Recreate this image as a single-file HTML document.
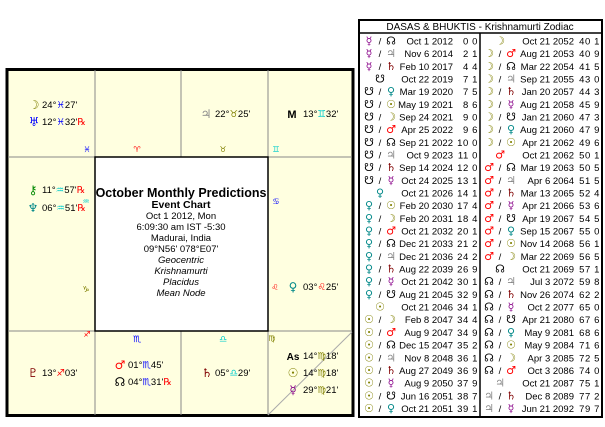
<!DOCTYPE html>
<html><head><meta charset="utf-8"><style>
body{margin:0;background:#fff;}
svg text{font-family:"Liberation Sans","DejaVu Sans",sans-serif;}
.g{font-family:"DejaVu Sans",sans-serif;}
</style></head><body>
<svg width="605" height="422" viewBox="0 0 605 422" xmlns="http://www.w3.org/2000/svg">
<rect x="7" y="69.5" width="346" height="346" fill="#ffffe0" stroke="#000" stroke-width="3"/>
<g stroke="#888" stroke-width="1">
<line x1="95" y1="70" x2="95" y2="415"/><line x1="181" y1="70" x2="181" y2="157"/><line x1="181" y1="331" x2="181" y2="415"/>
<line x1="268" y1="70" x2="268" y2="415"/>
<line x1="8" y1="157" x2="352" y2="157"/><line x1="8" y1="331" x2="352" y2="331"/>
<line x1="268" y1="415" x2="352" y2="332" stroke="#aaa"/>
</g>
<rect x="95" y="157" width="173" height="174" fill="#fff" stroke="#000" stroke-width="1.5"/>
<g font-size="9.5" fill="#000">
<text x="34" y="109" class="g" fill="#808000" font-size="12" text-anchor="middle">☽</text>
<text x="42" y="108">24°<tspan fill="#00f" class="g">♓</tspan>27'</text>
<text x="34" y="126" class="g" fill="#00f" font-size="12" text-anchor="middle">♅</text>
<text x="42" y="125">12°<tspan fill="#00f" class="g">♓</tspan>32'<tspan fill="#f00">℞</tspan></text>
<text x="87" y="152" class="g" fill="#00f" font-size="8" text-anchor="middle">♓</text>
<text x="137" y="152" class="g" fill="#f00" font-size="8" text-anchor="middle">♈</text>
<text x="223" y="152" class="g" fill="#808000" font-size="8" text-anchor="middle">♉</text>
<text x="276" y="152" class="g" fill="#0cc" font-size="8" text-anchor="middle">♊</text>
<text x="206" y="118" class="g" fill="#888" font-size="12" text-anchor="middle">♃</text>
<text x="215" y="117">22°<tspan fill="#808000" class="g">♉</tspan>25'</text>
<text x="292" y="118" font-weight="bold" font-size="11" text-anchor="middle">M</text>
<text x="303" y="117">13°<tspan fill="#0cc" class="g">♊</tspan>32'</text>
<text x="33" y="194" class="g" fill="#080" font-size="12" text-anchor="middle">⚷</text>
<text x="42" y="193">11°<tspan fill="#0cc" class="g">♒</tspan>57'<tspan fill="#f00">℞</tspan></text>
<text x="33" y="212" class="g" fill="#088" font-size="12" text-anchor="middle">♆</text>
<text x="42" y="211">06°<tspan fill="#0cc" class="g">♒</tspan>51'<tspan fill="#f00">℞</tspan></text>
<text x="86" y="204" class="g" fill="#0cc" font-size="8" text-anchor="middle">♒</text>
<text x="276" y="204" class="g" fill="#00f" font-size="8" text-anchor="middle">♋</text>
<text x="86" y="292" class="g" fill="#808000" font-size="8" text-anchor="middle">♑</text>
<text x="275" y="290" class="g" fill="#f00" font-size="8" text-anchor="middle">♌</text>
<text x="293" y="291" class="g" fill="#088" font-size="12" text-anchor="middle">♀</text>
<text x="303" y="290">03°<tspan fill="#f00" class="g">♌</tspan>25'</text>
<text x="87" y="337" class="g" fill="#f00" font-size="8" text-anchor="middle">♐</text>
<text x="33" y="377" class="g" fill="#800000" font-size="12" text-anchor="middle">♇</text>
<text x="42" y="376">13°<tspan fill="#f00" class="g">♐</tspan>03'</text>
<text x="137" y="342" class="g" fill="#00f" font-size="9" text-anchor="middle">♏</text>
<text x="120" y="369" class="g" fill="#f00" font-size="12" text-anchor="middle">♂</text>
<text x="128" y="368">01°<tspan fill="#00f" class="g">♏</tspan>45'</text>
<text x="120" y="386" class="g" fill="#000" font-size="12" text-anchor="middle">☊</text>
<text x="128" y="385">04°<tspan fill="#00f" class="g">♏</tspan>31'<tspan fill="#f00">℞</tspan></text>
<text x="223" y="342" class="g" fill="#0cc" font-size="9" text-anchor="middle">♎</text>
<text x="207" y="377" class="g" fill="#800000" font-size="12" text-anchor="middle">♄</text>
<text x="215" y="376">05°<tspan fill="#0cc" class="g">♎</tspan>29'</text>
<text x="272" y="341" class="g" fill="#808000" font-size="8" text-anchor="middle">♍</text>
<text x="293" y="360" font-weight="bold" font-size="10" text-anchor="middle">As</text>
<text x="303" y="359">14°<tspan fill="#808000" class="g">♍</tspan>18'</text>
<text x="293" y="377" class="g" fill="#808000" font-size="12" text-anchor="middle">☉</text>
<text x="303" y="376">14°<tspan fill="#808000" class="g">♍</tspan>18'</text>
<text x="293" y="394" class="g" fill="#808" font-size="12" text-anchor="middle">☿</text>
<text x="303" y="393">29°<tspan fill="#808000" class="g">♍</tspan>21'</text>
</g>
<g text-anchor="middle" font-size="9.5">
<text x="181" y="197" font-weight="bold" font-size="12.5">October Monthly Predictions</text>
<text x="181" y="208" font-weight="bold" font-size="10.5">Event Chart</text>
<text x="181" y="219">Oct 1 2012, Mon</text>
<text x="181" y="230">6:09:30 am  IST -5:30</text>
<text x="181" y="241">Madurai, India</text>
<text x="181" y="252">09°N56' 078°E07'</text>
<g font-style="italic"><text x="181" y="263">Geocentric</text><text x="181" y="274">Krishnamurti</text><text x="181" y="285">Placidus</text><text x="181" y="296">Mean Node</text></g>
</g>
<rect x="359" y="20" width="243" height="397" fill="#fff" stroke="#000" stroke-width="2"/>
<line x1="359" y1="33" x2="602" y2="33" stroke="#000" stroke-width="1.5"/>
<line x1="480" y1="33" x2="480" y2="417" stroke="#000" stroke-width="1.5"/>
<text x="480" y="30" text-anchor="middle" font-size="10">DASAS &amp; BHUKTIS - Krishnamurti Zodiac</text>
<g id="tbl" font-size="9.5"></g>
</svg>
<script>
const C={me:['☿','#808'],ra:['☊','#000'],ju:['♃','#888'],sa:['♄','#800000'],ke:['☋','#000'],ve:['♀','#088'],su:['☉','#808000'],mo:['☽','#808000'],ma:['♂','#f00']};
const L=[['me ra','Oct 1 2012','0 0'],['me ju','Nov 6 2014','2 1'],['me sa','Feb 10 2017','4 4'],['ke','Oct 22 2019','7 1'],['ke ve','Mar 19 2020','7 5'],['ke su','May 19 2021','8 6'],['ke mo','Sep 24 2021','9 0'],['ke ma','Apr 25 2022','9 6'],['ke ra','Sep 21 2022','10 0'],['ke ju','Oct 9 2023','11 0'],['ke sa','Sep 14 2024','12 0'],['ke me','Oct 24 2025','13 1'],['ve','Oct 21 2026','14 1'],['ve su','Feb 20 2030','17 4'],['ve mo','Feb 20 2031','18 4'],['ve ma','Oct 21 2032','20 1'],['ve ra','Dec 21 2033','21 2'],['ve ju','Dec 21 2036','24 2'],['ve sa','Aug 22 2039','26 9'],['ve me','Oct 21 2042','30 1'],['ve ke','Aug 21 2045','32 9'],['su','Oct 21 2046','34 1'],['su mo','Feb 8 2047','34 4'],['su ma','Aug 9 2047','34 9'],['su ra','Dec 15 2047','35 2'],['su ju','Nov 8 2048','36 1'],['su sa','Aug 27 2049','36 9'],['su me','Aug 9 2050','37 9'],['su ke','Jun 16 2051','38 7'],['su ve','Oct 21 2051','39 1']];
const R=[['mo','Oct 21 2052','40 1'],['mo ma','Aug 21 2053','40 9'],['mo ra','Mar 22 2054','41 5'],['mo ju','Sep 21 2055','43 0'],['mo sa','Jan 20 2057','44 3'],['mo me','Aug 21 2058','45 9'],['mo ke','Jan 21 2060','47 3'],['mo ve','Aug 21 2060','47 9'],['mo su','Apr 21 2062','49 6'],['ma','Oct 21 2062','50 1'],['ma ra','Mar 19 2063','50 5'],['ma ju','Apr 6 2064','51 5'],['ma sa','Mar 13 2065','52 4'],['ma me','Apr 21 2066','53 6'],['ma ke','Apr 19 2067','54 5'],['ma ve','Sep 15 2067','55 0'],['ma su','Nov 14 2068','56 1'],['ma mo','Mar 22 2069','56 5'],['ra','Oct 21 2069','57 1'],['ra ju','Jul 3 2072','59 8'],['ra sa','Nov 26 2074','62 2'],['ra me','Oct 2 2077','65 0'],['ra ke','Apr 21 2080','67 6'],['ra ve','May 9 2081','68 6'],['ra su','May 9 2084','71 6'],['ra mo','Apr 3 2085','72 5'],['ra ma','Oct 3 2086','74 0'],['ju','Oct 21 2087','75 1'],['ju sa','Dec 8 2089','77 2'],['ju me','Jun 21 2092','79 7']];
let s='';
function col(rows,x0,de,ne){rows.forEach((r,i)=>{const y=44.5+i*12.67;const p=r[0].split(' ');
if(p.length==1){s+=`<text class="g" x="${x0+14}" y="${y}" text-anchor="middle" font-size="11" fill="${C[p[0]][1]}">${C[p[0]][0]}</text>`;}
else{s+=`<text class="g" x="${x0+3}" y="${y}" text-anchor="middle" font-size="11" fill="${C[p[0]][1]}">${C[p[0]][0]}</text><text x="${x0+14}" y="${y}" text-anchor="middle">/</text><text class="g" x="${x0+25}" y="${y}" text-anchor="middle" font-size="11" fill="${C[p[1]][1]}">${C[p[1]][0]}</text>`;}
s+=`<text x="${de}" y="${y}" text-anchor="end">${r[1]}</text><text x="${ne}" y="${y}" text-anchor="end" letter-spacing="0.6">${r[2]}</text>`;});}
col(L,366,453,478);col(R,486,574,600);
document.getElementById('tbl').innerHTML=s;
</script>
</body></html>
